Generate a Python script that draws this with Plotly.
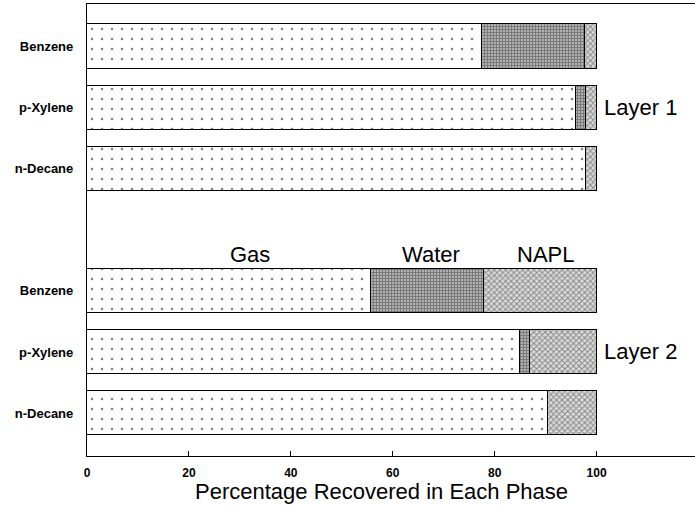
import plotly.graph_objects as go

# Data (percent recovered in each phase)
compounds = ["Benzene", "p-Xylene", "n-Decane", "Benzene", "p-Xylene", "n-Decane"]
row_pos = [7, 6, 5, 3, 2, 1]
gas = [77.5, 96.0, 98.0, 55.7, 84.9, 90.4]
water = [20.3, 1.9, 0.0, 22.2, 2.0, 0.0]
napl = [2.2, 2.1, 2.0, 22.1, 13.1, 9.6]
x_ticks = [0, 20, 40, 60, 80, 100]
phase_labels = [("Gas", 32.0), ("Water", 67.5), ("NAPL", 89.9)]
layer_labels = [("Layer 1", 6), ("Layer 2", 2)]

FONT = "Arial, Liberation Sans, Helvetica, sans-serif"

fig = go.Figure()
fig.add_trace(go.Bar(
    y=row_pos, x=gas, orientation="h", width=0.73, name="Gas",
    marker=dict(color="white", line=dict(color="black", width=1.2),
                pattern=dict(shape=".", size=10, solidity=0.05, fgcolor="black", bgcolor="white")),
))
fig.add_trace(go.Bar(
    y=row_pos, x=water, orientation="h", width=0.73, name="Water",
    marker=dict(color="white", line=dict(color="black", width=1.2),
                pattern=dict(shape="+", size=3, solidity=0.5, fgcolor="#3a3a3a", bgcolor="#b0b0b0")),
))
fig.add_trace(go.Bar(
    y=row_pos, x=napl, orientation="h", width=0.73, name="NAPL",
    marker=dict(color="white", line=dict(color="black", width=1.2),
                pattern=dict(shape="x", size=4, solidity=0.45, fgcolor="#333", bgcolor="#dcdcdc")),
))

for txt, xv in phase_labels:
    fig.add_annotation(x=xv, y=4, text=txt, showarrow=False, xanchor="center",
                       yanchor="middle", yshift=-25, font=dict(family=FONT, size=22, color="black"))
for txt, yv in layer_labels:
    fig.add_annotation(x=101.1, y=yv, text=txt, showarrow=False, xanchor="left",
                       yanchor="middle", font=dict(family=FONT, size=22, color="black"))

fig.add_annotation(x=57.7, y=0, xref="x", yref="paper", text="Percentage Recovered in Each Phase",
                   showarrow=False, xanchor="center", yanchor="middle", yshift=-35,
                   font=dict(family=FONT, size=22, color="black"))

fig.update_layout(
    width=695, height=506, barmode="stack", showlegend=False,
    plot_bgcolor="white", paper_bgcolor="white",
    margin=dict(l=87, r=0, t=4, b=50),
    font=dict(family=FONT, color="black"),
    bargap=0,
)
fig.update_xaxes(range=[0, 119.3], tickvals=x_ticks, ticktext=[str(v) for v in x_ticks],
                 ticks="inside", ticklen=5, tickcolor="black", showgrid=False, zeroline=False,
                 showline=True, linecolor="black", linewidth=1.2, mirror=True,
                 ticklabelstandoff=5,
                 tickfont=dict(family=FONT, size=12, color="black", weight="bold"))
fig.update_yaxes(range=[0.296, 7.70], tickvals=row_pos, ticktext=compounds, ticks="",
                 showgrid=False, zeroline=False, showline=True, linecolor="black", linewidth=1.2,
                 ticklabelstandoff=10,
                 tickfont=dict(family=FONT, size=13, color="black", weight="bold"))

fig.write_html("out.html")
